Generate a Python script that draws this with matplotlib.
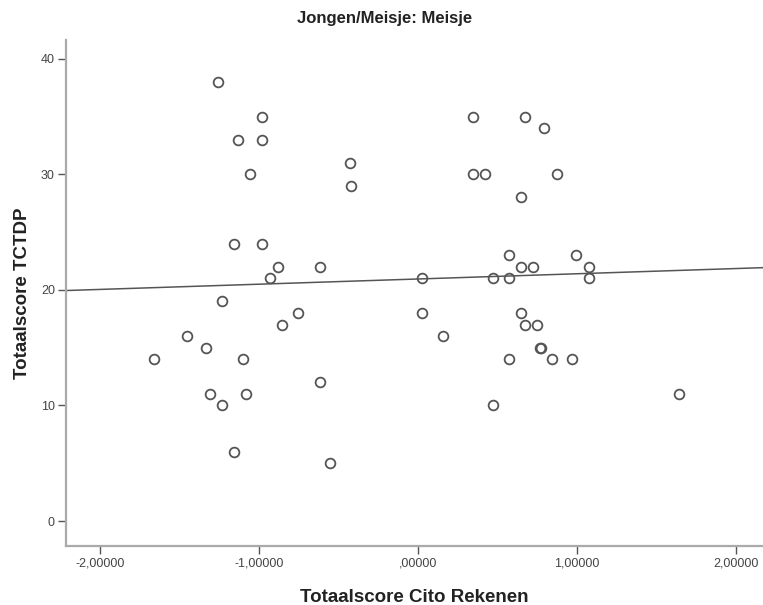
import numpy as np
import matplotlib.pyplot as plt

plt.rcParams['font.family'] = ['Liberation Sans', 'DejaVu Sans']

# Totaalscore Cito Rekenen (z-score) and Totaalscore TCTDP, meisjes only
cito = [-1.256, -0.981, -1.132, -0.981, -1.057, -0.430, -0.423, -1.157, -0.981,
        -0.882, -0.614, -0.933, -1.233, -0.757, -0.857, -1.455, -1.335, -1.658,
        -1.101, -0.614, -1.306, -1.082, -1.233, -1.157, -0.553,
        0.346, 0.675, 0.794, 0.344, 0.423, 0.872, 0.646, 0.570, 0.996, 0.646,
        0.721, 1.074, 0.027, 0.470, 0.570, 1.074, 0.027, 0.646, 0.155, 0.671,
        0.746, 0.770, 0.774, 0.570, 0.845, 0.970, 1.643, 0.472]
tctdp = [38, 35, 33, 33, 30, 31, 29, 24, 24,
         22, 22, 21, 19, 18, 17, 16, 15, 14,
         14, 12, 11, 11, 10, 6, 5,
         35, 35, 34, 30, 30, 30, 28, 23, 23, 22,
         22, 22, 21, 21, 21, 21, 18, 18, 16, 17,
         17, 15, 15, 14, 14, 14, 11, 10]

x_ticks = [-2, -1, 0, 1, 2]
x_tick_labels = ['-2,00000', '-1,00000', ',00000', '1,00000', '2,00000']
y_ticks = [0, 10, 20, 30, 40]

x = np.array(cito)
y = np.array(tctdp)

fig = plt.figure(figsize=(7.63, 6.05), dpi=100)
ax = fig.add_axes([0.0865, 0.0975, 0.9135, 0.836])

ax.plot(x, y, linestyle='none', marker='o', markersize=7, markerfacecolor='none',
        markeredgecolor='#555555', markeredgewidth=1.3)

# lineaire fit over alle punten
slope, intercept = np.polyfit(x, y, 1)
xlim = (-2.214, 2.17)
xs = np.array(xlim)
ax.plot(xs, intercept + slope * xs, color='#555555', linewidth=1.1)

ax.set_xlim(xlim)
ax.set_ylim(-2.16, 41.6)
ax.set_xticks(x_ticks)
ax.set_xticklabels(x_tick_labels)
ax.set_yticks(y_ticks)

for side in ['top', 'right']:
    ax.spines[side].set_visible(False)
for side in ['left', 'bottom']:
    ax.spines[side].set_color('#aaaaaa')
    ax.spines[side].set_linewidth(1.6)

ax.tick_params(axis='both', direction='out', length=5.5, width=1, color='#555555',
               labelsize=9, labelcolor='#444444', pad=2.5)

ax.set_xlabel('Totaalscore Cito Rekenen', fontsize=13.5, fontweight='bold',
              color='#222222', labelpad=14)
ax.set_ylabel('Totaalscore TCTDP', fontsize=13.5, fontweight='bold',
              color='#222222', labelpad=7)
fig.text(0.5045, 1 - 18 / 605, 'Jongen/Meisje: Meisje', fontsize=12,
         fontweight='bold', color='#222222', ha='center', va='center')

fig.savefig('out.png', dpi=100)
